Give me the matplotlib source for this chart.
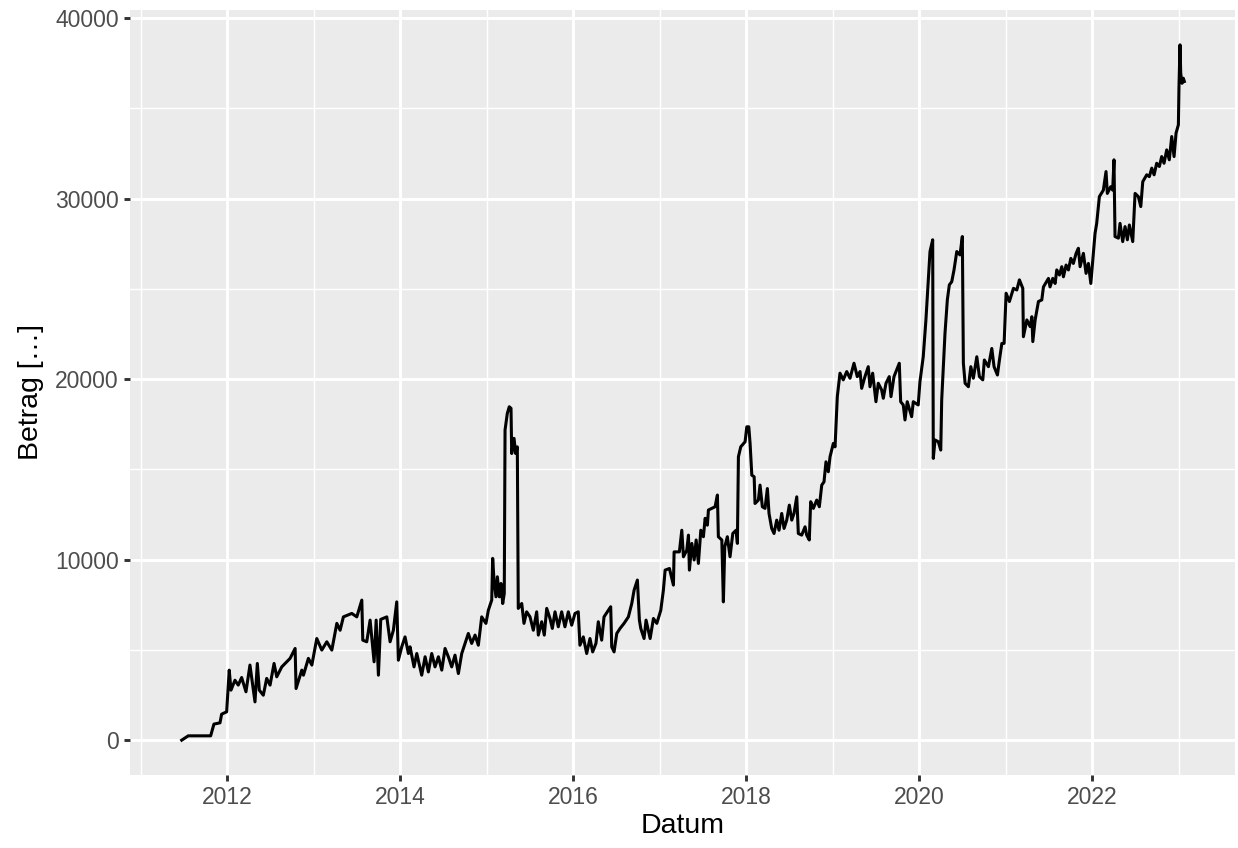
import datetime as dt

import numpy as np
import matplotlib
matplotlib.use("Agg")
import matplotlib.pyplot as plt
import matplotlib.dates as mdates
from matplotlib.ticker import MultipleLocator

# Zeitpunkte (Dezimaljahre)
jahr = [
    2011.473, 2011.549, 2011.808, 2011.846, 2011.916, 2011.935, 2011.993, 2012.023, 2012.043, 2012.089,
    2012.127, 2012.166, 2012.216, 2012.262, 2012.320, 2012.347, 2012.370, 2012.416, 2012.455, 2012.494,
    2012.540, 2012.571, 2012.629, 2012.725, 2012.783, 2012.794, 2012.860, 2012.879, 2012.936, 2012.976,
    2013.033, 2013.091, 2013.149, 2013.207, 2013.265, 2013.303, 2013.341, 2013.438, 2013.496, 2013.554,
    2013.565, 2013.611, 2013.650, 2013.696, 2013.720, 2013.746, 2013.773, 2013.843, 2013.881, 2013.919,
    2013.958, 2013.977, 2014.016, 2014.054, 2014.093, 2014.112, 2014.158, 2014.190, 2014.247, 2014.286,
    2014.324, 2014.363, 2014.401, 2014.440, 2014.479, 2014.517, 2014.555, 2014.594, 2014.632, 2014.671,
    2014.710, 2014.748, 2014.786, 2014.825, 2014.864, 2014.902, 2014.941, 2014.990, 2015.018, 2015.057,
    2015.068, 2015.083, 2015.106, 2015.122, 2015.145, 2015.164, 2015.184, 2015.202, 2015.211, 2015.237,
    2015.260, 2015.280, 2015.288, 2015.315, 2015.334, 2015.353, 2015.364, 2015.404, 2015.430, 2015.461,
    2015.500, 2015.538, 2015.577, 2015.596, 2015.635, 2015.665, 2015.693, 2015.731, 2015.758, 2015.789,
    2015.827, 2015.866, 2015.904, 2015.943, 2015.982, 2016.020, 2016.058, 2016.077, 2016.116, 2016.155,
    2016.193, 2016.224, 2016.262, 2016.289, 2016.328, 2016.355, 2016.405, 2016.432, 2016.444, 2016.471,
    2016.502, 2016.540, 2016.586, 2016.636, 2016.675, 2016.702, 2016.740, 2016.763, 2016.779, 2016.817,
    2016.840, 2016.887, 2016.925, 2016.964, 2017.010, 2017.040, 2017.060, 2017.110, 2017.156, 2017.164,
    2017.225, 2017.253, 2017.272, 2017.311, 2017.330, 2017.341, 2017.369, 2017.396, 2017.419, 2017.445,
    2017.473, 2017.503, 2017.523, 2017.549, 2017.561, 2017.638, 2017.665, 2017.676, 2017.716, 2017.734,
    2017.750, 2017.780, 2017.811, 2017.843, 2017.881, 2017.896, 2017.908, 2017.935, 2017.985, 2018.005,
    2018.028, 2018.043, 2018.063, 2018.090, 2018.100, 2018.139, 2018.158, 2018.185, 2018.216, 2018.243,
    2018.262, 2018.293, 2018.320, 2018.351, 2018.378, 2018.409, 2018.436, 2018.467, 2018.497, 2018.525,
    2018.551, 2018.583, 2018.601, 2018.640, 2018.679, 2018.698, 2018.728, 2018.744, 2018.775, 2018.814,
    2018.844, 2018.872, 2018.898, 2018.921, 2018.948, 2018.968, 2019.006, 2019.026, 2019.052, 2019.083,
    2019.121, 2019.161, 2019.199, 2019.245, 2019.283, 2019.315, 2019.334, 2019.372, 2019.410, 2019.430,
    2019.461, 2019.499, 2019.526, 2019.565, 2019.584, 2019.615, 2019.653, 2019.673, 2019.708, 2019.739,
    2019.769, 2019.785, 2019.815, 2019.835, 2019.861, 2019.912, 2019.931, 2019.988, 2020.008, 2020.046,
    2020.077, 2020.104, 2020.124, 2020.155, 2020.162, 2020.182, 2020.220, 2020.248, 2020.259, 2020.297,
    2020.324, 2020.347, 2020.375, 2020.401, 2020.433, 2020.470, 2020.497, 2020.509, 2020.529, 2020.567,
    2020.595, 2020.624, 2020.664, 2020.694, 2020.733, 2020.751, 2020.798, 2020.837, 2020.863, 2020.902,
    2020.925, 2020.953, 2020.979, 2021.002, 2021.040, 2021.087, 2021.126, 2021.156, 2021.195, 2021.202,
    2021.242, 2021.280, 2021.300, 2021.311, 2021.338, 2021.376, 2021.415, 2021.434, 2021.492, 2021.510,
    2021.542, 2021.569, 2021.588, 2021.619, 2021.646, 2021.665, 2021.696, 2021.723, 2021.751, 2021.780,
    2021.812, 2021.838, 2021.858, 2021.896, 2021.927, 2021.954, 2021.982, 2022.005, 2022.031, 2022.050,
    2022.081, 2022.127, 2022.158, 2022.173, 2022.212, 2022.235, 2022.250, 2022.262, 2022.301, 2022.320,
    2022.351, 2022.378, 2022.405, 2022.428, 2022.467, 2022.494, 2022.532, 2022.560, 2022.583, 2022.629,
    2022.659, 2022.687, 2022.714, 2022.744, 2022.775, 2022.802, 2022.829, 2022.860, 2022.890, 2022.918,
    2022.945, 2022.968, 2022.995, 2023.002, 2023.014, 2023.022, 2023.037, 2023.052, 2023.064,
]

# Betrag zu jedem Zeitpunkt
betrag = [
    0, 240, 240, 890, 960, 1440, 1570, 3880, 2770, 3320,
    3050, 3470, 2680, 4160, 2120, 4250, 2770, 2490, 3420, 3050,
    4250, 3510, 4060, 4530, 5080, 2860, 3880, 3600, 4530, 4160,
    5630, 4990, 5450, 4990, 6470, 6090, 6830, 7020, 6830, 7760,
    5540, 5450, 6650, 4340, 6650, 3600, 6690, 6830, 5450, 6090,
    7660, 4430, 5170, 5720, 4800, 5170, 4060, 4800, 3600, 4620,
    3780, 4800, 4060, 4620, 3880, 5080, 4620, 4060, 4710, 3690,
    4800, 5360, 5910, 5360, 5820, 5260, 6830, 6470, 7200, 7760,
    10070, 8870, 7940, 9050, 7940, 8680, 7570, 8130, 17180, 18100,
    18470, 18380, 15880, 16720, 15880, 16250, 7300, 7570, 6470, 7110,
    6830, 6090, 7110, 5820, 6560, 5820, 7300, 6740, 6190, 7110,
    6280, 7110, 6280, 7110, 6370, 7020, 7110, 5260, 5720, 4800,
    5630, 4890, 5360, 6560, 5540, 6830, 7200, 7390, 5170, 4890,
    5910, 6190, 6470, 6830, 7570, 8310, 8870, 6650, 6190, 5630,
    6650, 5630, 6740, 6470, 7200, 8310, 9420, 9510, 8590, 10430,
    10430, 11630, 10160, 10530, 11360, 9420, 10900, 9980, 11090, 9790,
    11630, 11270, 12290, 11910, 12750, 12930, 13580, 11270, 11090, 7660,
    10710, 11270, 10160, 11450, 11630, 10900, 15700, 16250, 16530, 17360,
    17360, 16440, 14680, 14590, 13110, 13300, 14130, 12930, 12840, 13940,
    12560, 11730, 11450, 12190, 11630, 12560, 11730, 12190, 13020, 12190,
    12560, 13480, 11450, 11360, 11820, 11360, 11090, 13210, 12840, 13300,
    12930, 14130, 14310, 15420, 14870, 15700, 16440, 16250, 19030, 20330,
    19960, 20420, 20050, 20880, 20140, 20420, 19490, 20140, 20690, 19580,
    20330, 18750, 19770, 19400, 18940, 19770, 20140, 19030, 20140, 20510,
    20880, 18750, 18570, 17740, 18750, 17920, 18750, 18570, 19860, 21240,
    23280, 25500, 27070, 27720, 15610, 16630, 16530, 16070, 18850, 22540,
    24390, 25220, 25400, 26050, 27070, 26880, 27900, 20880, 19770, 19580,
    20690, 20050, 21240, 20140, 19960, 21060, 20690, 21700, 20690, 20230,
    21060, 21980, 21980, 24760, 24300, 25030, 24940, 25500, 25030, 22350,
    23280, 22910, 23460, 22080, 23280, 24300, 24390, 25110, 25580, 25110,
    25580, 25300, 26050, 25770, 26230, 25670, 26320, 26050, 26690, 26410,
    26970, 27250, 26230, 26970, 25860, 26410, 25300, 26600, 28080, 28630,
    30110, 30470, 31500, 30290, 30660, 30470, 32150, 27900, 27810, 28630,
    27620, 28450, 27720, 28540, 27620, 30290, 30110, 29560, 30940, 31320,
    31220, 31690, 31320, 31960, 31780, 32330, 31960, 32700, 32150, 33440,
    32330, 33630, 34090, 36210, 38520, 36950, 36390, 36670, 36490,
]


def jahr_zu_datum(j):
    y = int(j)
    start = dt.datetime(y, 1, 1)
    ende = dt.datetime(y + 1, 1, 1)
    return start + (ende - start) * (j - y)


datum = [jahr_zu_datum(j) for j in jahr]

plt.rcParams['font.family'] = ['Liberation Sans', 'DejaVu Sans']

fig = plt.figure(figsize=(12.38, 8.48), dpi=100)
ax = fig.add_axes([130 / 1238, 73 / 848, 1105 / 1238, 765 / 848])
ax.set_facecolor('#EBEBEB')
for s in ax.spines.values():
    s.set_visible(False)

ax.plot(datum, betrag, color='black', linewidth=2.2, zorder=3)

# ggplot-artiges Gitter
ax.xaxis.set_major_locator(mdates.YearLocator(2))
ax.xaxis.set_minor_locator(mdates.YearLocator(1))
ax.xaxis.set_major_formatter(mdates.DateFormatter('%Y'))
ax.yaxis.set_major_locator(MultipleLocator(10000))
ax.yaxis.set_minor_locator(MultipleLocator(5000))
ax.grid(which='major', color='white', linewidth=2.1)
ax.grid(which='minor', color='white', linewidth=1.05)
ax.set_axisbelow(True)

ax.set_xlim(jahr_zu_datum(2010.875), jahr_zu_datum(2023.65))
ax.set_ylim(-1930, 40450)

ax.tick_params(which='major', length=4.1, width=2.1, color='#333333',
               labelcolor='#4D4D4D', labelsize=16.5, pad=4)
ax.tick_params(which='minor', length=0)

ax.set_xlabel('Datum', fontsize=20.5, color='black', labelpad=3)
ax.set_ylabel('Betrag […]', fontsize=20.5, color='black', labelpad=8)

fig.savefig('out.png', dpi=100, facecolor='white')
